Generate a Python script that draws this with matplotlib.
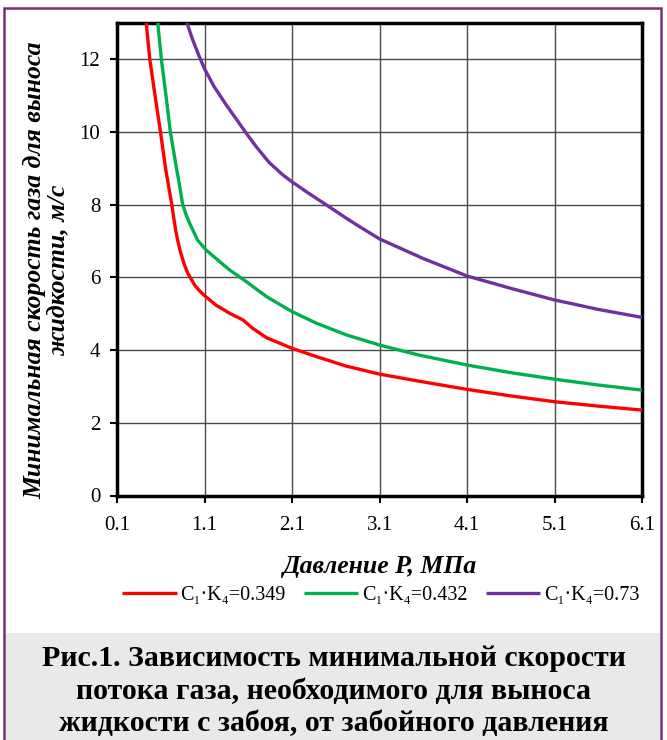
import matplotlib
matplotlib.use("Agg")
import matplotlib.pyplot as plt
from matplotlib.patches import Rectangle

plt.rcParams['font.family'] = ['Liberation Serif', 'DejaVu Serif']

# values (pressure MPa, velocity m/s)
p_349 = [0.434, 0.475, 0.535, 0.597, 0.655, 0.705, 0.726, 0.77, 0.80, 0.83, 0.87, 0.91,
         0.99, 1.04, 1.1, 1.23, 1.39, 1.54, 1.65, 1.81, 2.10, 2.38, 2.72, 3.10, 3.54,
         4.1, 4.6, 5.1, 5.6, 6.1]
v_349 = [13.0, 12.0, 11.0, 10.0, 9.0, 8.3, 8.0, 7.30, 6.95, 6.66, 6.35, 6.11,
         5.78, 5.64, 5.50, 5.24, 5.01, 4.83, 4.60, 4.34, 4.05, 3.82, 3.56, 3.34, 3.15,
         2.92, 2.74, 2.58, 2.46, 2.35]

p_432 = [0.566, 0.607, 0.66, 0.71, 0.78, 0.81, 0.85, 0.89, 0.93, 1.02, 1.12, 1.31,
         1.39, 1.58, 1.81, 2.10, 2.38, 2.72, 3.10, 3.54, 4.1, 4.6, 5.1, 5.6, 6.1]
v_432 = [13.0, 12.0, 11.0, 10.0, 9.0, 8.6, 8.01, 7.72, 7.49, 7.03, 6.75, 6.36,
         6.20, 5.88, 5.47, 5.06, 4.74, 4.42, 4.14, 3.87, 3.59, 3.38, 3.20, 3.04, 2.90]

p_73 = [0.90, 0.966, 1.04, 1.10, 1.21, 1.35, 1.48, 1.57, 1.69, 1.84, 1.995, 2.10,
        2.30, 2.49, 2.72, 2.85, 3.1, 3.6, 4.1, 4.6, 5.1, 5.6, 6.1]
v_73 = [13.0, 12.53, 12.08, 11.74, 11.25, 10.74, 10.30, 9.99, 9.60, 9.16, 8.82, 8.63,
        8.30, 8.00, 7.63, 7.43, 7.06, 6.52, 6.04, 5.70, 5.38, 5.12, 4.90]

labels = ['C\u2081\u00b7K\u2084=0.349', 'C\u2081\u00b7K\u2084=0.432', 'C\u2081\u00b7K\u2084=0.73']
colors = ['#FF0000', '#00B050', '#7030A0']
x_ticks = [0.1, 1.1, 2.1, 3.1, 4.1, 5.1, 6.1]
y_ticks = [0, 2, 4, 6, 8, 10, 12]

W, H = 667, 740
fig = plt.figure(figsize=(W / 100, H / 100), dpi=100)

# grey caption band and purple frame
fig.patches.append(Rectangle((5 / W, 0), 655 / W, (H - 633) / H, transform=fig.transFigure,
                             facecolor='#E9E9E9', edgecolor='none', zorder=0))
fig.patches.append(Rectangle((4 / W, -0.02), 657 / W, (H - 8) / H + 0.02, transform=fig.transFigure,
                             facecolor='none', edgecolor='#7B2F72', linewidth=1.8, zorder=1))

ax = fig.add_axes([117 / W, 1 - 495.5 / H, 525 / W, 472.5 / H])

for p, v, c, lab in zip([p_349, p_432, p_73], [v_349, v_432, v_73], colors, labels):
    ax.plot(p, v, color=c, lw=2.4, label=lab, solid_capstyle='butt',
            solid_joinstyle='round', zorder=3)

ax.set_xlim(0.1, 6.1)
ax.set_ylim(0, 13)
ax.set_xticks(x_ticks)
ax.set_xticklabels([f'{t:.1f}' for t in x_ticks])
ax.set_yticks(y_ticks)
ax.grid(True, color='#4a4a4a', lw=1.0)
ax.set_axisbelow(True)
for s in ax.spines.values():
    s.set_linewidth(2.5)
    s.set_color('black')
ax.tick_params(axis='both', direction='out', length=5, width=1.5, labelsize=15)
ax.tick_params(axis='y', pad=7)
ax.tick_params(axis='x', pad=10)

fig.text(46 / W, 1 - 270 / H, 'Минимальная скорость газа для выноса\nжидкости, м/с',
         rotation=90, ha='center', va='center', multialignment='center',
         fontsize=18.5, fontweight='bold', fontstyle='italic', linespacing=1.0)
fig.text(380 / W, 1 - 567 / H, 'Давление P, МПа', ha='center', va='center',
         fontsize=18.5, fontweight='bold', fontstyle='italic')

ax.legend(loc='center', bbox_to_anchor=(381 / W, 1 - 595 / H), bbox_transform=fig.transFigure,
          ncol=3, frameon=False, fontsize=14.5, handlelength=2.7, handletextpad=0.2,
          columnspacing=0.9)

fig.text(0.5, 1 - 691 / H, 'Рис.1. Зависимость минимальной скорости\n'
         'потока газа, необходимого для выноса\nжидкости с забоя, от забойного давления',
         ha='center', va='center', fontsize=21.5, fontweight='bold', linespacing=1.27)

fig.savefig('out.png', dpi=100)
